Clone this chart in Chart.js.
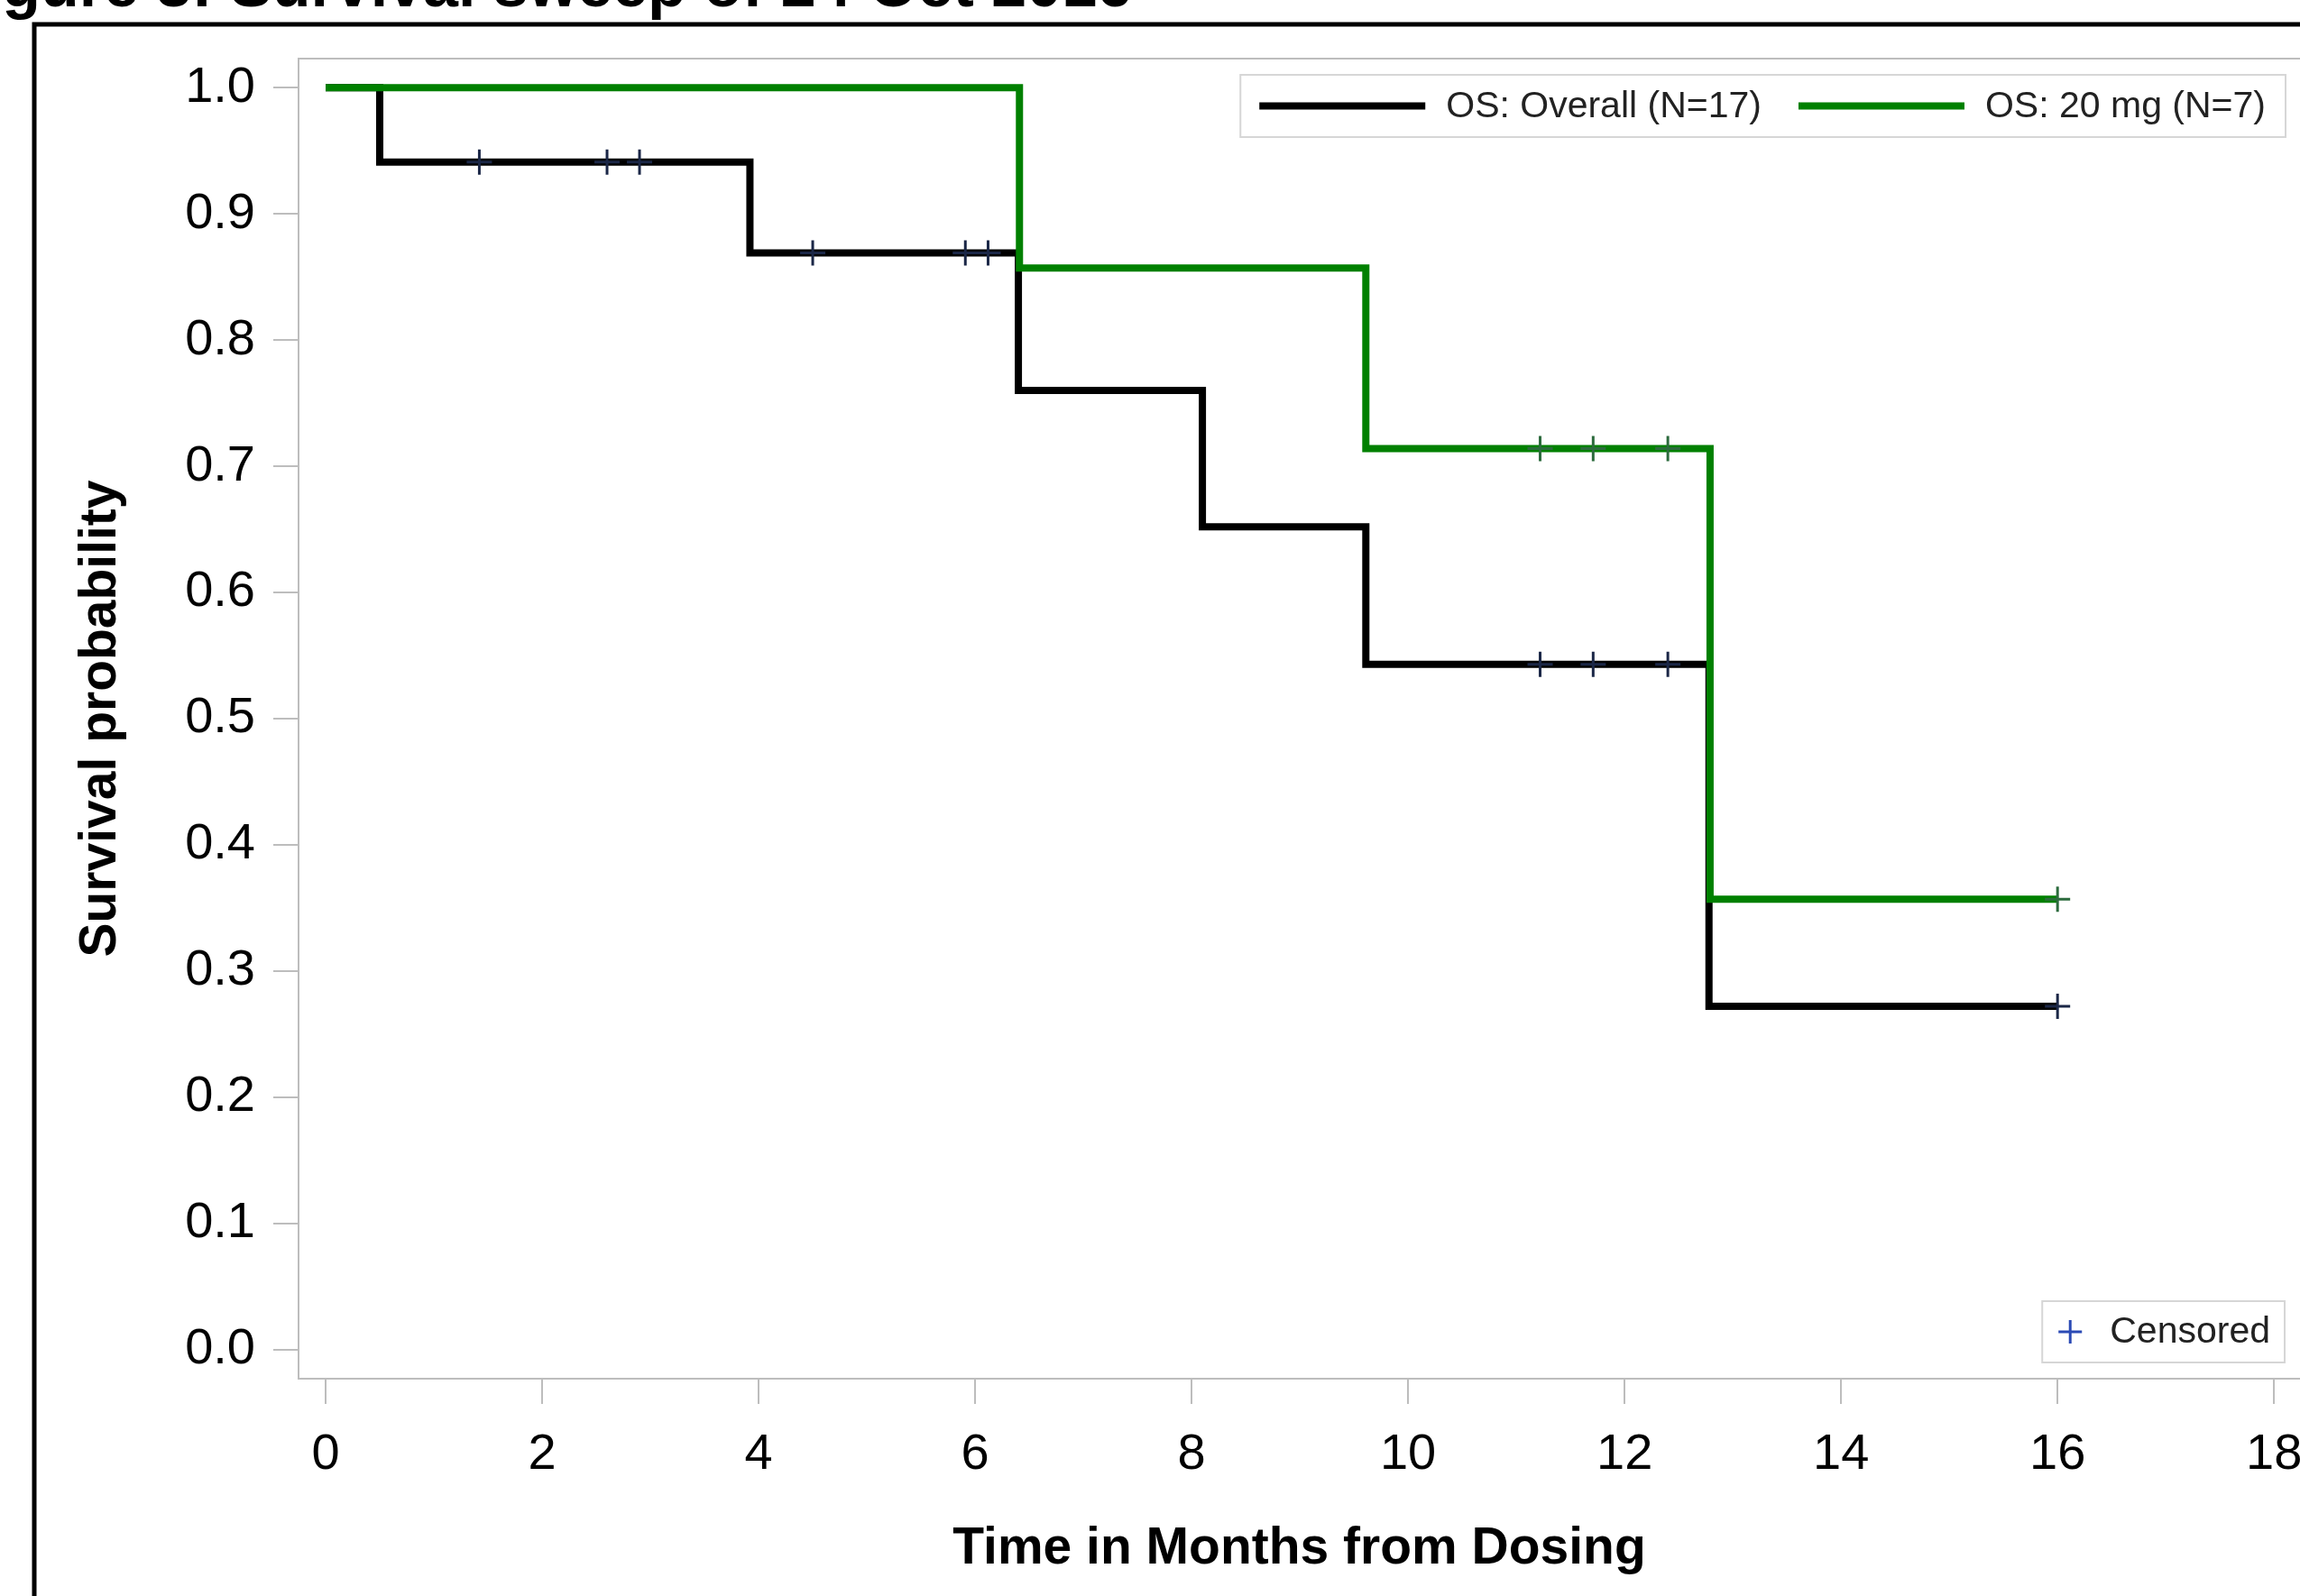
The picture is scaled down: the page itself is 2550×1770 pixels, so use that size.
<!DOCTYPE html>
<html>
<head>
<meta charset="utf-8">
<script src="https://cdn.jsdelivr.net/npm/chart.js@4"></script>
<style>
  html, body { margin: 0; padding: 0; background: #fff; overflow: hidden; }
  canvas { display: block; }
</style>
</head>
<body>
<canvas id="km" width="2550" height="1770"></canvas>
<script>
'use strict';

// Figure title (clipped at the top of the page in the source)
const TITLE = 'Figure 3: Survival sweep of 24 Oct 2016';

// Axis ticks
const xTicks = [0, 2, 4, 6, 8, 10, 12, 14, 16, 18];
const yTicks = [0.0, 0.1, 0.2, 0.3, 0.4, 0.5, 0.6, 0.7, 0.8, 0.9, 1.0];
const yTickLabels = ['0.0', '0.1', '0.2', '0.3', '0.4', '0.5', '0.6', '0.7', '0.8', '0.9', '1.0'];

// OS: Overall (N=17) - step curve
const overallTime = [0, 0.5, 3.92, 6.4, 8.1, 9.61, 12.78, 16.0];
const overallSurv = [1.0, 0.941, 0.869, 0.760, 0.652, 0.543, 0.272, 0.272];
// OS: Overall - censored times
const overallCensTime = [1.42, 2.6, 2.9, 4.5, 5.91, 6.12, 11.22, 11.71, 12.4, 16.0];
const overallCensSurv = [0.941, 0.941, 0.941, 0.869, 0.869, 0.869, 0.543, 0.543, 0.543, 0.272];

// OS: 20 mg (N=7) - step curve
const doseTime = [0, 6.41, 9.61, 12.79, 16.0];
const doseSurv = [1.0, 0.857, 0.714, 0.357, 0.357];
// OS: 20 mg - censored times
const doseCensTime = [11.22, 11.71, 12.4, 16.0];
const doseCensSurv = [0.714, 0.714, 0.714, 0.357];

const FONT = 'Liberation Sans';
const AXIS_GREY = '#bdbdbd';

// zip two arrays into {x, y} points
const pts = (xs, ys) => xs.map((x, i) => ({ x: x, y: ys[i] }));

// Background, clipped title and outer black frame
const frame = {
  id: 'frame',
  beforeDraw(chart) {
    const { ctx } = chart;
    ctx.save();
    ctx.fillStyle = '#fff';
    ctx.fillRect(0, 0, chart.width, chart.height);

    ctx.fillStyle = '#000';
    ctx.font = `bold 70px "${FONT}"`;
    ctx.textAlign = 'right';
    ctx.textBaseline = 'alphabetic';
    ctx.fillText(TITLE, 1255, 7);

    ctx.strokeStyle = '#000';
    ctx.lineWidth = 5;
    ctx.strokeRect(38, 27, chart.width + 100, chart.height + 100);
    ctx.restore();
  },
  beforeDatasetsDraw(chart) {
    // top edge of the plot wall
    const { ctx, chartArea } = chart;
    ctx.save();
    ctx.strokeStyle = AXIS_GREY;
    ctx.lineWidth = 2;
    ctx.beginPath();
    ctx.moveTo(chartArea.left, chartArea.top);
    ctx.lineTo(chartArea.right, chartArea.top);
    ctx.stroke();
    ctx.restore();
  }
};

// Inset legends: curves at top right, censored marker at bottom right
const insetLegend = {
  id: 'insetLegend',
  afterDraw(chart) {
    const { ctx, chartArea } = chart;
    const items = chart.data.datasets.filter(d => d.inLegend);
    ctx.save();
    ctx.font = `41px "${FONT}"`;
    ctx.textBaseline = 'middle';
    ctx.textAlign = 'left';

    // top legend
    const sample = 184;
    let width = 21;
    items.forEach((d, i) => {
      width += sample + 23 + ctx.measureText(d.label).width + (i < items.length - 1 ? 41 : 22);
    });
    const right = chartArea.right - 16;
    const top = chartArea.top + 18;
    const h = 69;
    let x = right - width;
    ctx.fillStyle = '#fff';
    ctx.fillRect(x, top, width, h);
    ctx.strokeStyle = '#d6d6d6';
    ctx.lineWidth = 2;
    ctx.strokeRect(x, top, width, h);
    const cy = top + h / 2;
    x += 21;
    items.forEach((d, i) => {
      ctx.strokeStyle = d.borderColor;
      ctx.lineWidth = d.borderWidth;
      ctx.beginPath();
      ctx.moveTo(x, cy);
      ctx.lineTo(x + sample, cy);
      ctx.stroke();
      x += sample + 23;
      ctx.fillStyle = '#222';
      ctx.fillText(d.label, x, cy + 1);
      x += ctx.measureText(d.label).width + 41;
    });

    // censored legend
    const cText = 'Censored';
    const cw = 75 + ctx.measureText(cText).width + 16;
    const cRight = chartArea.right - 17;
    const cBottom = chartArea.bottom - 18;
    const ch = 68;
    const cx = cRight - cw;
    const cTop = cBottom - ch;
    ctx.fillStyle = '#fff';
    ctx.fillRect(cx, cTop, cw, ch);
    ctx.strokeStyle = '#d6d6d6';
    ctx.lineWidth = 2;
    ctx.strokeRect(cx, cTop, cw, ch);
    const my = cTop + ch / 2;
    ctx.strokeStyle = '#2b4ab5';
    ctx.lineWidth = 3;
    ctx.beginPath();
    ctx.moveTo(cx + 31 - 13, my);
    ctx.lineTo(cx + 31 + 13, my);
    ctx.moveTo(cx + 31, my - 13);
    ctx.lineTo(cx + 31, my + 13);
    ctx.stroke();
    ctx.fillStyle = '#222';
    ctx.fillText(cText, cx + 75, my + 1);
    ctx.restore();
  }
};

new Chart(document.getElementById('km'), {
  type: 'line',
  data: {
    datasets: [
      {
        label: 'OS: Overall (N=17)',
        data: pts(overallTime, overallSurv),
        stepped: 'before',
        borderColor: '#000000',
        borderWidth: 8,
        pointRadius: 0,
        fill: false,
        order: 3,
        inLegend: true
      },
      {
        label: 'OS: 20 mg (N=7)',
        data: pts(doseTime, doseSurv),
        stepped: 'before',
        borderColor: '#008000',
        borderWidth: 8,
        pointRadius: 0,
        fill: false,
        order: 2,
        inLegend: true
      },
      {
        label: 'Censored (Overall)',
        data: pts(overallCensTime, overallCensSurv),
        showLine: false,
        pointStyle: 'cross',
        pointRadius: 14,
        pointBorderWidth: 3,
        pointBorderColor: '#1b2747',
        order: 1
      },
      {
        label: 'Censored (20 mg)',
        data: pts(doseCensTime, doseCensSurv),
        showLine: false,
        pointStyle: 'cross',
        pointRadius: 14,
        pointBorderWidth: 3,
        pointBorderColor: '#2c6b3d',
        order: 0
      }
    ]
  },
  options: {
    responsive: false,
    animation: false,
    devicePixelRatio: 1,
    layout: { autoPadding: false, padding: { top: 65, left: 0, right: 0, bottom: 0 } },
    plugins: {
      legend: { display: false },
      tooltip: { enabled: false }
    },
    scales: {
      x: {
        type: 'linear',
        min: -0.25,
        max: 18.24,
        afterBuildTicks: s => { s.ticks = xTicks.map(v => ({ value: v })); },
        afterFit: s => { s.height = 241; s.paddingLeft = 0; s.paddingRight = 0; },
        grid: { drawOnChartArea: false, drawTicks: true, tickLength: 28, color: AXIS_GREY, lineWidth: 2 },
        border: { display: true, color: AXIS_GREY, width: 2 },
        ticks: {
          autoSkip: false,
          maxRotation: 0,
          padding: 23,
          color: '#000',
          font: { family: FONT, size: 56 }
        },
        title: {
          display: true,
          text: 'Time in Months from Dosing',
          color: '#000',
          font: { family: FONT, size: 57, weight: 'bold', lineHeight: 1 },
          padding: { top: 0, bottom: 23 }
        }
      },
      y: {
        min: -0.023,
        max: 1.023,
        afterBuildTicks: s => { s.ticks = yTicks.map(v => ({ value: v })); },
        afterFit: s => { s.width = 331; s.paddingTop = 0; s.paddingBottom = 0; },
        grid: { drawOnChartArea: false, drawTicks: true, tickLength: 28, color: AXIS_GREY, lineWidth: 2 },
        border: { display: true, color: AXIS_GREY, width: 2 },
        ticks: {
          padding: 20,
          color: '#000',
          font: { family: FONT, size: 56 },
          callback: (v, i) => yTickLabels[i]
        },
        title: {
          display: true,
          text: 'Survival probability',
          color: '#000',
          font: { family: FONT, size: 57, weight: 'bold', lineHeight: 1 },
          padding: { top: 84, bottom: 0 }
        }
      }
    }
  },
  plugins: [frame, insetLegend]
});
</script>
</body>
</html>
